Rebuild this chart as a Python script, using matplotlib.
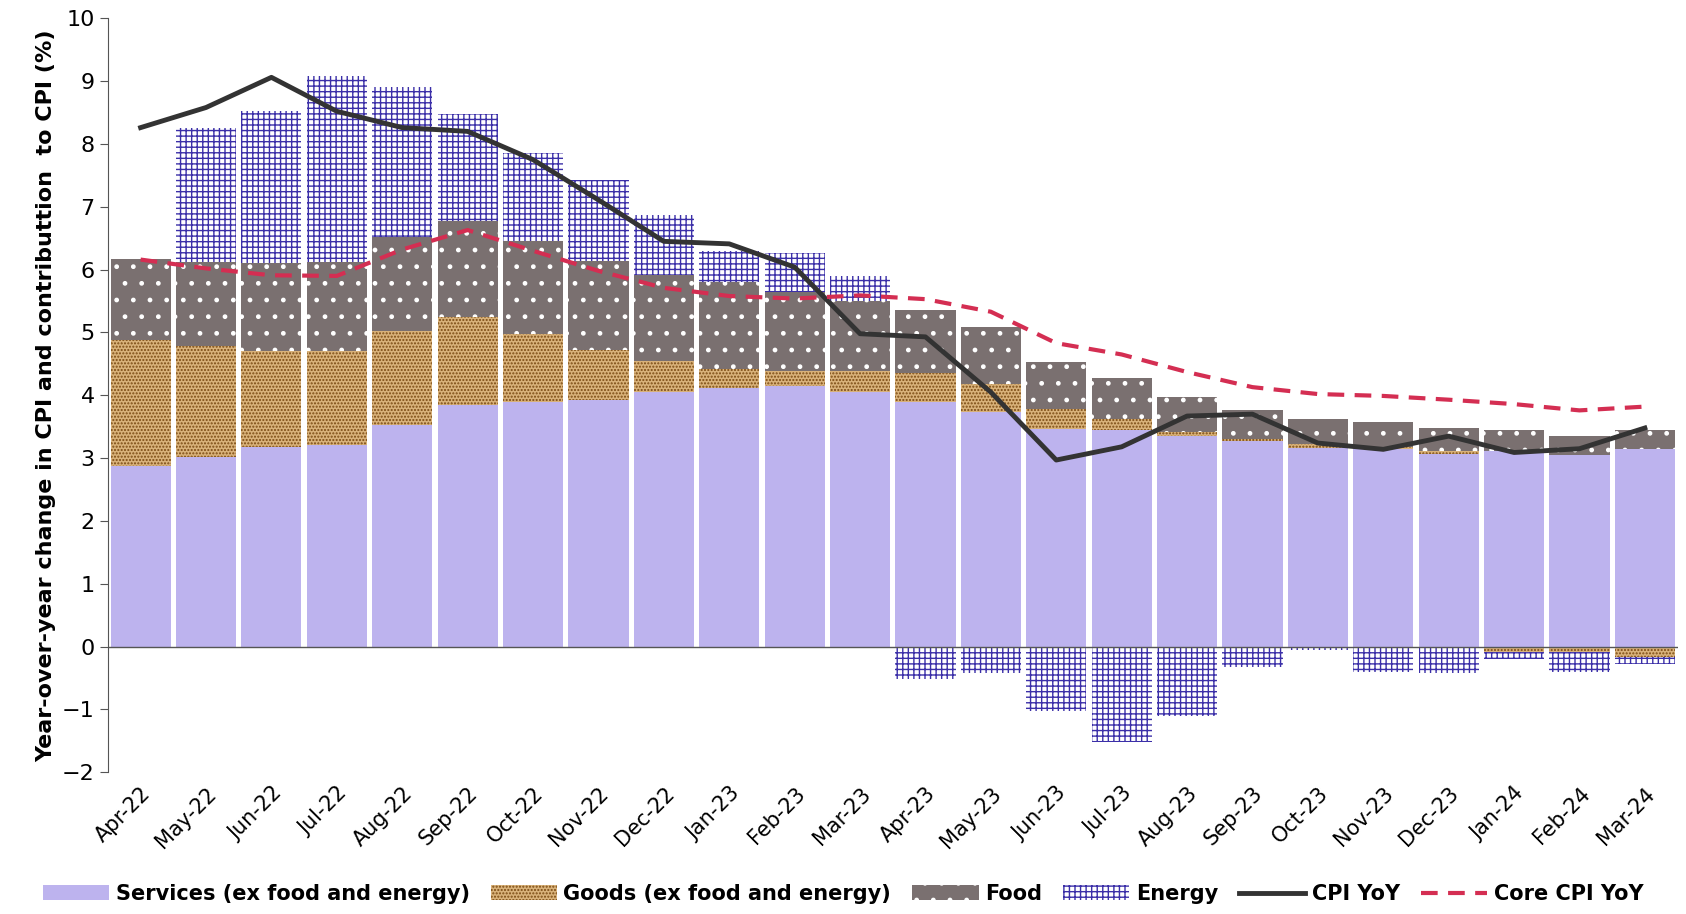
import numpy as np
import matplotlib.pyplot as plt
import matplotlib as mpl

months = ['Apr-22','May-22','Jun-22','Jul-22','Aug-22','Sep-22','Oct-22','Nov-22','Dec-22','Jan-23','Feb-23','Mar-23',
          'Apr-23','May-23','Jun-23','Jul-23','Aug-23','Sep-23','Oct-23','Nov-23','Dec-23','Jan-24','Feb-24','Mar-24']
services = [2.88,3.02,3.18,3.21,3.52,3.85,3.90,3.92,4.06,4.12,4.15,4.06,3.90,3.73,3.46,3.44,3.35,3.27,3.16,3.15,3.06,3.12,3.05,3.15]
goods = [2.00,1.76,1.52,1.49,1.50,1.40,1.07,0.80,0.49,0.30,0.23,0.32,0.45,0.45,0.32,0.18,0.07,0.03,0.06,0.03,0.06,-0.08,-0.08,-0.17]
food = [1.29,1.34,1.40,1.42,1.50,1.53,1.48,1.41,1.37,1.38,1.27,1.12,1.00,0.90,0.75,0.66,0.56,0.47,0.40,0.39,0.36,0.33,0.30,0.30]
energy = [0.00,2.13,2.43,2.96,2.38,1.70,1.40,1.29,0.95,0.50,0.62,0.40,-0.52,-0.42,-1.02,-1.52,-1.10,-0.32,-0.05,-0.40,-0.42,-0.12,-0.32,-0.10]
cpi = [8.26,8.58,9.06,8.52,8.26,8.20,7.75,7.11,6.45,6.41,6.04,4.98,4.93,4.05,2.97,3.18,3.67,3.70,3.24,3.14,3.35,3.09,3.15,3.48]
core = [6.16,6.02,5.91,5.90,6.32,6.63,6.30,5.98,5.71,5.58,5.54,5.59,5.53,5.33,4.83,4.65,4.37,4.13,4.02,3.99,3.93,3.86,3.76,3.82]

mpl.rcParams['hatch.linewidth'] = 1.0
x = np.arange(len(months))
services = np.array(services); goods = np.array(goods); food = np.array(food); energy = np.array(energy)

pos_base = np.zeros(len(x)); neg_base = np.zeros(len(x))
def stack(vals):
    b = np.where(vals >= 0, pos_base, neg_base)
    pos_base[:] += np.where(vals >= 0, vals, 0)
    neg_base[:] += np.where(vals < 0, vals, 0)
    return b

fig, ax = plt.subplots(figsize=(16.86, 9.14), dpi=100)
fig.subplots_adjust(left=0.064, right=0.995, top=0.98, bottom=0.155)
w = 0.92
h = []
h.append(ax.bar(x, services, w, bottom=stack(services), color='#bdb3ee', label='Services (ex food and energy)'))
h.append(ax.bar(x, goods, w, bottom=stack(goods), color='#d9b27a', edgecolor='#7a4a12', hatch='.....', lw=0, label='Goods (ex food and energy)'))
h.append(ax.bar(x, food, w, bottom=stack(food), color='#7a7070', edgecolor='white', hatch='.', lw=0, label='Food'))
h.append(ax.bar(x, energy, w, bottom=stack(energy), color='white', edgecolor='#3b2fa8', hatch='+++', lw=0, label='Energy'))
h += ax.plot(x, cpi, color='#333333', lw=3.5, label='CPI YoY')
h += ax.plot(x, core, color='#d42e52', lw=3, ls=(0, (4, 2.5)), label='Core CPI YoY')

ax.axhline(0, color='#555555', lw=1)
ax.set_xlim(-0.5, len(x) - 0.5)
ax.set_ylim(-2, 10)
ax.set_yticks(range(-2, 11))
ax.set_xticks(x)
ax.set_xticklabels(months, rotation=45, ha='right', rotation_mode='anchor', fontsize=15)
ax.tick_params(axis='x', length=0, pad=8)
ax.tick_params(axis='y', labelsize=16, length=6, color='#555555')
for s in ['top', 'right', 'bottom']:
    ax.spines[s].set_visible(False)
ax.spines['left'].set_color('#555555')
ax.set_ylabel('Year-over-year change in CPI and contributtion  to CPI (%)', fontsize=16, fontweight='bold')
fig.legend(handles=h, loc='center', bbox_to_anchor=(0.5, 0.022), ncol=6, frameon=False,
           prop={'size': 15, 'weight': 'bold'}, handlelength=3.2, columnspacing=1.0, handletextpad=0.3)
fig.savefig('out.png')
